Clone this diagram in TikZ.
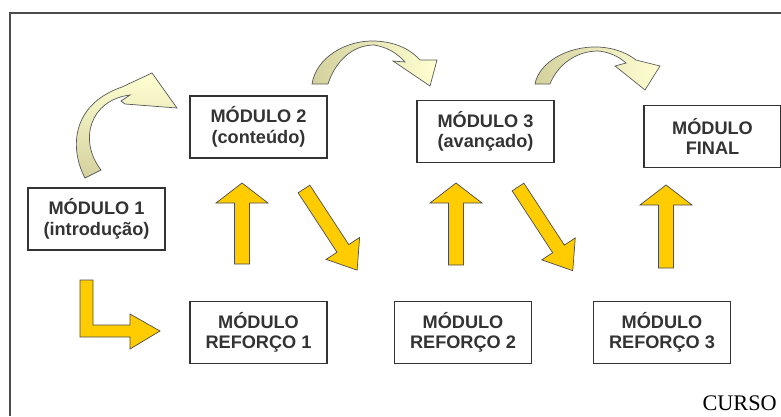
\documentclass[tikz,border=0pt]{standalone}
\usepackage{fontspec}
\setmainfont{Liberation Serif}
\setsansfont{Liberation Sans}
\usepackage{tikz}

\definecolor{amarelo}{RGB}{255,204,0}
\definecolor{caqui}{RGB}{212,209,158}
\definecolor{palido}{RGB}{255,255,210}

\tikzset{
  modbox/.style={draw=black!80, line width=1.6pt, minimum width=4.11cm, minimum height=1.86cm,
    inner sep=0pt, align=center, text=black!80, font=\sffamily\bfseries\fontsize{15.5}{17.5}\selectfont},
  setabloco/.style={fill=amarelo, draw=black!70, line width=0.6pt, line join=miter},
  setacurva/.style={draw=black!65, line width=0.6pt}
}

\begin{document}
\begin{tikzpicture}[x=0.03cm, y=-0.03cm]
  \useasboundingbox (0,0) rectangle (781,416);
  \draw[black!70, line width=1.4pt] (10,416) -- (10,13) -- (781,13);

  \foreach \n/\x/\y/\t in {m1/96.5/219/{MÓDULO 1\\(introdução)}, m2/258.5/127/{MÓDULO 2\\(conteúdo)},
      m3/485.5/131.5/{MÓDULO 3\\(avançado)}, mf/712.5/136.5/{MÓDULO\\FINAL},
      r1/258.5/332.5/{MÓDULO\\REFORÇO 1}, r2/463/332.5/{MÓDULO\\REFORÇO 2}, r3/662/332.5/{MÓDULO\\REFORÇO 3}}
   {
    \node[modbox] (\n) at (\x,\y) {\t};
   }

  \foreach \x/\y/\a/\l/\w/\h/\k in {242/264/90/81/7.5/26/20, 456/265/90/82/7.5/26/20, 666/268/90/83/7.5/26/20,
      304/189/-56.8/97/7/20/26, 518/187/-56.8/100/7/20/26}
   {
    \draw[setabloco, shift={(\x,\y)}, rotate=\a] (0,-\w) -- (\l-\k,-\w) -- (\l-\k,-\h) -- (\l,0)
      -- (\l-\k,\h) -- (\l-\k,\w) -- (0,\w) -- cycle;
   }
  \draw[setabloco] (80,280) -- (93,280) -- (93,325) -- (130,325) -- (130,314) -- (160,331)
    -- (130,349) -- (130,337) -- (80,337) -- cycle;

  \draw[setacurva, top color=palido, bottom color=caqui] (85,178) .. controls (70,150) and (70,105) .. (122,87)
    -- (152,73) -- (177,108) -- (125,104) -- (121,101) -- (130,95) .. controls (90,100) and (78,140) .. (101,170) -- cycle;
  \draw[setacurva, left color=caqui, right color=palido] (312,84) .. controls (316,58) and (345,40) .. (375,41)
    .. controls (398,42) and (412,51) .. (420,60) -- (437,60) -- (430,86) -- (393,61) -- (405,62)
    .. controls (396,52) and (386,47) .. (374,45) .. controls (352,45) and (335,62) .. (328,84) -- cycle;
  \draw[setacurva, left color=caqui, right color=palido] (535,84) .. controls (539,62) and (568,46) .. (598,47)
    .. controls (617,48) and (628,54) .. (636,60) -- (660,66) -- (645,90) -- (615,66) -- (626,63)
    .. controls (618,56) and (609,52) .. (598,51) .. controls (575,51) and (557,66) .. (550,84) -- cycle;

  \node[anchor=base east, font=\fontsize{19}{22}\selectfont, inner sep=0pt] (curso) at (777,410) {CURSO};
\end{tikzpicture}
\end{document}
